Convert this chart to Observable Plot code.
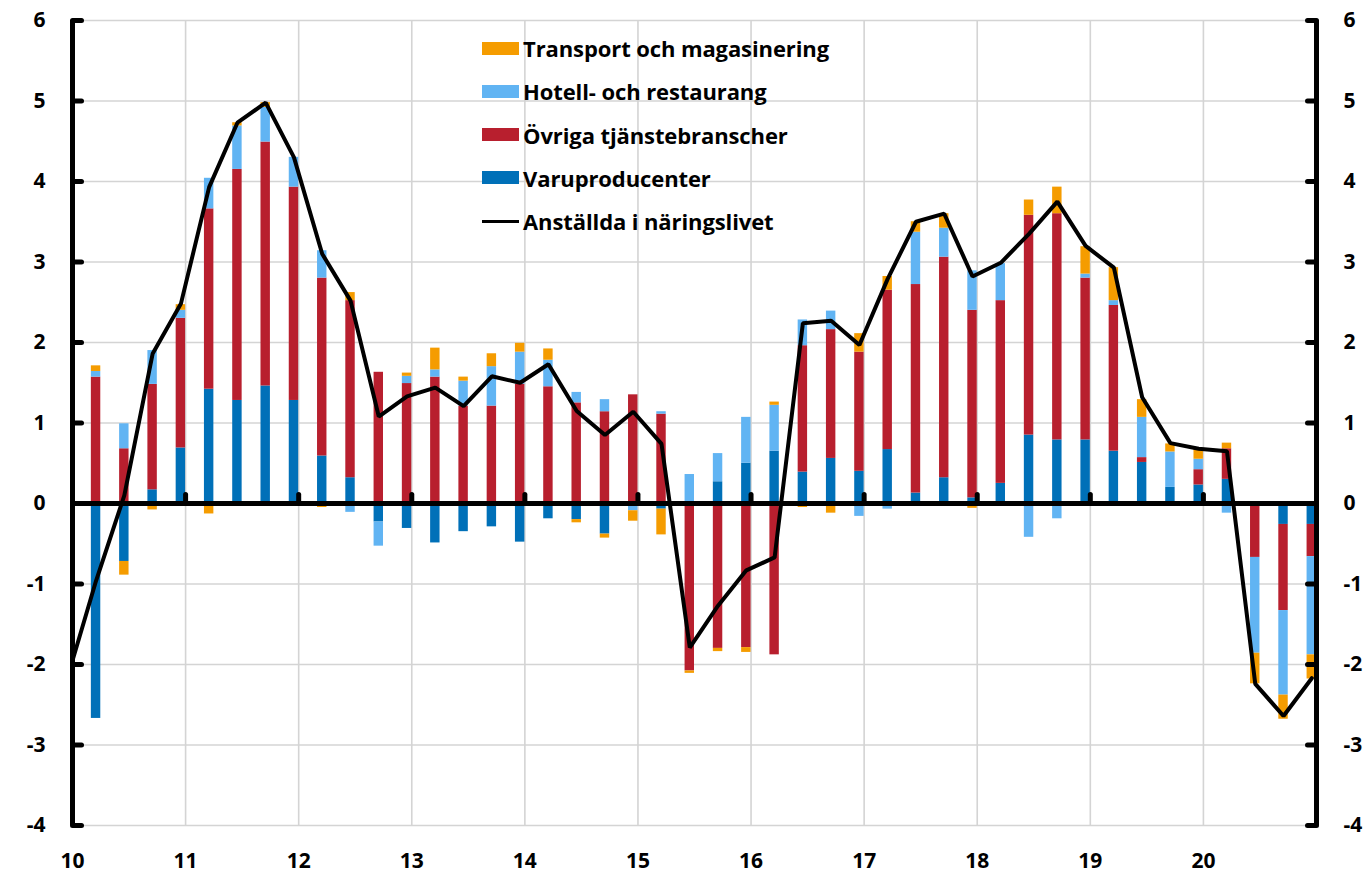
<!DOCTYPE html>
<html>
<head>
<meta charset="utf-8">
<script src="https://cdn.jsdelivr.net/npm/d3@7"></script>
<script src="https://cdn.jsdelivr.net/npm/@observablehq/plot@0.6"></script>
<style>
  html, body { margin: 0; padding: 0; background: #fff; }
  #wrap { position: relative; width: 1369px; height: 878px; font-family: "Open Sans", Lato, sans-serif; }
  #legend { position: absolute; left: 482px; top: 0; }
  .row { position: absolute; left: 0; height: 30px; display: flex; align-items: center; white-space: nowrap;
         font-weight: bold; font-size: 22px; color: #000; letter-spacing: -0.1px; }
  .sw { width: 37px; height: 13px; margin-right: 4px; flex: none; }
  .ln { width: 37px; height: 3px; margin-right: 4px; background: #000; flex: none; }
</style>
</head>
<body>
<div id="wrap"><div id="legend"></div></div>
<script>
// Quarters 2010Q1 .. 2020Q4 (44 quarters); line also has 2009Q4 as first point
const years = [2010, 2011, 2012, 2013, 2014, 2015, 2016, 2017, 2018, 2019, 2020];
const yearLabels = ["10", "11", "12", "13", "14", "15", "16", "17", "18", "19", "20"];
const yTickValues = [-4, -3, -2, -1, 0, 1, 2, 3, 4, 5, 6];

const seriesNames = ["Varuproducenter", "Övriga tjänstebranscher", "Hotell- och restaurang", "Transport och magasinering"];
const seriesColors = ["#0070b8", "#b81f2e", "#61b4f3", "#f59c00"];
const lineName = "Anställda i näringslivet";

const varuproducenter = [
  -2.67, -0.72, 0.17, 0.69,  1.42, 1.28, 1.46, 1.28,  0.59, 0.32, -0.23, -0.31,
  -0.49, -0.35, -0.29, -0.48, -0.19, -0.20, -0.38, -0.02, -0.07, -0.03, 0.27, 0.50,
  0.65, 0.39, 0.56, 0.40,  0.67, 0.13, 0.32, 0.07,  0.25, 0.85, 0.79, 0.79,
  0.65, 0.51, 0.20, 0.23,  0.30, 0.00, -0.26, -0.26
];
const ovrigaTjanster = [
  1.57, 0.68, 1.31, 1.61,  2.24, 2.87, 3.03, 2.65,  2.21, 2.20, 1.63, 1.49,
  1.57, 1.21, 1.21, 1.48,  1.45, 1.25, 1.14, 1.35,  1.11, -2.05, -1.80, -1.79,
  -1.88, 1.57, 1.60, 1.48, 1.98, 2.59, 2.74, 2.33,  2.27, 2.73, 2.81, 2.01,
  1.81, 0.06, 0.00, 0.19,  0.38, -0.67, -1.07, -0.40
];
const hotellRestaurang = [
  0.07, 0.31, 0.42, 0.10,  0.38, 0.54, 0.43, 0.37,  0.34, -0.11, -0.30, 0.09,
  0.09, 0.31, 0.49, 0.40,  0.33, 0.13, 0.15, -0.07,  0.03, 0.36, 0.35, 0.57,
  0.57, 0.32, 0.23, -0.16, -0.07, 0.65, 0.36, 0.49,  0.46, -0.42, -0.19, 0.05,
  0.06, 0.50, 0.44, 0.13,  -0.12, -1.19, -1.05, -1.22
];
const transportMagasinering = [
  0.07, -0.17, -0.08, 0.07, -0.13, 0.04, 0.06, 0.00, -0.05, 0.10, 0.00, 0.04,
  0.27, 0.05, 0.16, 0.11,  0.14, -0.04, -0.05, -0.13, -0.32, -0.03, -0.04, -0.06,
  0.04, -0.05, -0.12, 0.23, 0.17, 0.13, 0.18, -0.06,  0.00, 0.19, 0.33, 0.34,
  0.41, 0.22, 0.10, 0.13,  0.07, -0.38, -0.30, -0.30
];
// 2009Q4, then 2010Q1 .. 2020Q4
const anstallda = [
  -2.15,
  -0.96, 0.10, 1.86, 2.48,  3.93, 4.73, 4.98, 4.30,  3.10, 2.52, 1.08, 1.33,
  1.44, 1.21, 1.58, 1.50,  1.73, 1.15, 0.85, 1.14,  0.74, -1.79, -1.27, -0.83,
  -0.67, 2.24, 2.27, 1.97, 2.79, 3.50, 3.60, 2.82,  2.99, 3.35, 3.75, 3.20,
  2.93, 1.32, 0.75, 0.68,  0.65, -2.24, -2.64, -2.17
];

// month index from Jan 2010 (Excel-style date axis in months; quarter value sits on its last month)
const seriesValues = [varuproducenter, ovrigaTjanster, hotellRestaurang, transportMagasinering];
const rows = [];
for (let i = 0; i < varuproducenter.length; i++) {
  const m = 3 * i + 2;
  seriesValues.forEach((arr, k) => rows.push({m0: m, m1: m + 1, series: seriesNames[k], value: arr[i]}));
}
const lineRows = anstallda.map((v, j) => ({m: 3 * (j - 1) + 2.5, value: v}));
const yearTicks = years.map(y => (y - 2010) * 12);
const yearLabel = new Map(yearTicks.map((t, i) => [t, yearLabels[i]]));
const tickShape = {draw(context, l) { context.moveTo(0, 0); context.lineTo(0, -l); }};

const chart = Plot.plot({
  width: 1369,
  height: 878,
  marginLeft: 72,
  marginRight: 53,
  marginTop: 20,
  marginBottom: 53,
  style: {fontFamily: "'Open Sans', Lato, sans-serif", fontSize: "21px", fontWeight: "bold", background: "#fff", color: "#000"},
  x: {type: "linear", domain: [0, 132]},
  y: {domain: [-4, 6]},
  color: {domain: seriesNames, range: seriesColors},
  marks: [
    Plot.gridY({ticks: yTickValues, stroke: "#d4d4d4", strokeOpacity: 1, strokeWidth: 1.6}),
    Plot.gridX({ticks: yearTicks.slice(1), stroke: "#d4d4d4", strokeOpacity: 1, strokeWidth: 1.6}),
    Plot.rectY(rows, Plot.stackY({order: seriesNames}, {x1: "m0", x2: "m1", y: "value", fill: "series"})),
    Plot.ruleY([0], {strokeWidth: 5, stroke: "#000"}),
    Plot.ruleX([0, 132], {strokeWidth: 5, stroke: "#000"}),
    Plot.line(lineRows, {x: "m", y: "value", stroke: "#000", strokeWidth: 4, strokeLinejoin: "miter", clip: true}),
    Plot.vector(yTickValues, {y: d => d, frameAnchor: "left", length: 9, rotate: 90, anchor: "start", shape: tickShape, strokeWidth: 5, stroke: "#000"}),
    Plot.vector(yTickValues, {y: d => d, frameAnchor: "right", length: 9, rotate: -90, anchor: "start", shape: tickShape, strokeWidth: 5, stroke: "#000"}),
    Plot.vector(yearTicks.slice(1), {x: d => d, y: 0, length: 9, rotate: 0, anchor: "start", shape: tickShape, strokeWidth: 5, stroke: "#000"}),
    Plot.axisY({ticks: yTickValues, anchor: "left", tickSize: 0, tickPadding: 27, label: null, tickFormat: d => String(d), fontSize: 21, fontWeight: "bold"}),
    Plot.axisY({ticks: yTickValues, anchor: "right", tickSize: 0, tickPadding: 27, label: null, tickFormat: d => String(d), fontSize: 21, fontWeight: "bold"}),
    Plot.axisX({ticks: yearTicks, anchor: "bottom", tickSize: 0, tickPadding: 28, label: null, tickFormat: d => yearLabel.get(d), fontSize: 21, fontWeight: "bold"})
  ]
});
document.getElementById("wrap").prepend(chart);

// legend (overlay inside plot area)
const legend = document.getElementById("legend");
const legendItems = [
  {name: seriesNames[3], color: seriesColors[3]},
  {name: seriesNames[2], color: seriesColors[2]},
  {name: seriesNames[1], color: seriesColors[1]},
  {name: seriesNames[0], color: seriesColors[0]},
  {name: lineName, line: true}
];
legendItems.forEach((it, i) => {
  const row = document.createElement("div");
  row.className = "row";
  row.style.top = (48 + 43.3 * i - 15) + "px";
  const sw = document.createElement("div");
  if (it.line) { sw.className = "ln"; } else { sw.className = "sw"; sw.style.background = it.color; }
  const tx = document.createElement("span");
  tx.textContent = it.name;
  row.appendChild(sw);
  row.appendChild(tx);
  legend.appendChild(row);
});
</script>
</body>
</html>
